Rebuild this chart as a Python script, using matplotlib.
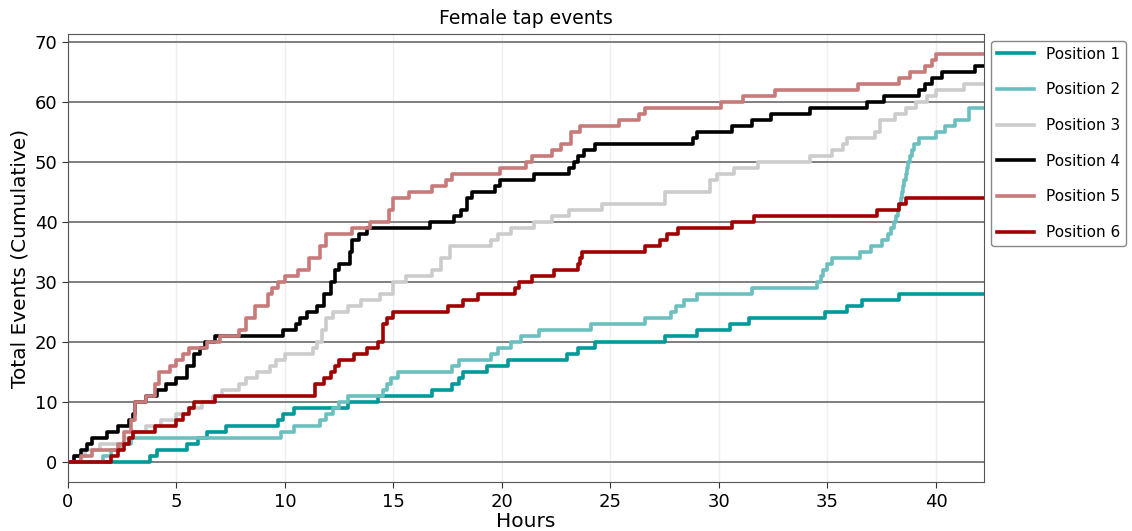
import matplotlib
matplotlib.use("Agg")
import matplotlib.pyplot as plt

# hours at which each cumulative count starts (step functions)
p1_t = [0, 3.8, 4.1, 5.5, 6.0, 6.4, 7.3, 9.7, 9.9, 10.4, 12.9, 14.3, 16.8, 17.7, 18.0, 18.2, 19.3,
        20.3, 23.0, 23.5, 24.3, 27.5, 29.0, 30.5, 31.4, 34.9, 35.9, 36.6, 38.3]
p1_c = [0, 1, 2, 3, 4, 5, 6, 7, 8, 9, 10, 11, 12, 13, 14, 15, 16,
        17, 18, 19, 20, 21, 22, 23, 24, 25, 26, 27, 28]

p2_t = [0, 1.6, 2.0, 2.4, 2.9, 9.8, 10.4, 11.6, 11.9, 12.2, 12.5, 12.9, 14.5, 14.7, 14.9, 15.2,
        17.7, 18.0, 19.5, 19.8, 20.4, 20.9, 21.7, 24.1, 26.6, 27.8, 28.0, 28.4, 29.0, 31.5,
        34.5, 34.7, 34.8, 35.0, 35.2, 36.5, 37.0, 37.5, 37.8, 37.95, 38.05, 38.15, 38.25,
        38.3, 38.4, 38.45, 38.5, 38.55, 38.6, 38.65, 38.7, 38.8, 38.9, 39.0, 39.2, 40.0,
        40.4, 40.9, 41.5]
p2_c = [0, 1, 2, 3, 4, 5, 6, 7, 8, 9, 10, 11, 12, 13, 14, 15,
        16, 17, 18, 19, 20, 21, 22, 23, 24, 25, 26, 27, 28, 29,
        30, 31, 32, 33, 34, 35, 36, 37, 38, 39, 40, 41, 42,
        43, 44, 45, 46, 47, 48, 49, 50, 51, 52, 53, 54, 55,
        56, 57, 59]

p3_t = [0, 0.3, 0.8, 1.5, 2.6, 3.0, 3.6, 4.3, 5.0, 5.6, 6.2, 6.7, 7.1, 7.9, 8.2, 8.7, 9.3, 9.6,
        10.0, 11.3, 11.5, 11.7, 11.9, 12.2, 12.9, 13.5, 14.4, 15.0, 15.6, 16.8, 17.2, 17.6,
        19.5, 19.8, 20.4, 21.5, 22.3, 23.1, 24.6, 27.5, 29.6, 29.9, 30.7, 31.8, 34.2, 35.2,
        35.7, 35.9, 37.2, 37.4, 38.1, 38.6, 39.1, 39.6, 40.0, 41.3]
p3_c = [0, 1, 2, 3, 4, 5, 6, 7, 8, 9, 10, 11, 12, 13, 14, 15, 16, 17,
        18, 19, 20, 22, 24, 25, 26, 27, 28, 30, 31, 32, 34, 36,
        37, 38, 39, 40, 41, 42, 43, 45, 47, 48, 49, 50, 51, 52,
        53, 54, 55, 57, 58, 59, 60, 61, 62, 63]

p4_t = [0, 0.3, 0.6, 0.9, 1.1, 1.8, 2.3, 2.8, 3.0, 3.1, 3.6, 4.1, 4.5, 5.0, 5.5, 5.8, 6.1, 6.3,
        6.8, 9.9, 10.5, 10.7, 11.0, 11.5, 11.8, 12.1, 12.3, 12.5, 13.0, 13.1, 13.4, 13.8,
        16.7, 17.8, 18.1, 18.4, 18.6, 19.7, 19.9, 21.5, 23.1, 23.3, 23.5, 23.8, 24.3, 28.8,
        29.0, 30.6, 31.5, 32.4, 34.2, 36.8, 37.6, 39.2, 39.5, 39.8, 40.3, 41.8]
p4_c = [0, 1, 2, 3, 4, 5, 6, 7, 8, 10, 11, 12, 13, 14, 16, 18, 19, 20,
        21, 22, 23, 24, 25, 26, 28, 30, 32, 33, 35, 37, 38, 39,
        40, 41, 42, 44, 45, 46, 47, 48, 49, 50, 51, 52, 53, 54,
        55, 56, 57, 58, 59, 60, 61, 62, 63, 64, 65, 66]

p5_t = [0, 0.6, 1.1, 2.3, 2.6, 2.9, 3.1, 3.6, 4.0, 4.2, 4.7, 5.0, 5.3, 5.6, 6.4, 7.0, 7.9, 8.2,
        8.6, 9.2, 9.4, 9.7, 10.0, 10.6, 11.1, 11.6, 11.9, 13.1, 13.9, 14.8, 15.0, 15.7, 16.8,
        17.4, 17.7, 19.9, 21.1, 21.4, 22.3, 22.7, 23.2, 23.6, 25.4, 26.3, 26.6, 30.1, 31.1,
        32.6, 36.4, 38.3, 38.8, 39.5, 39.8, 40.0]
p5_c = [0, 1, 2, 3, 5, 7, 10, 11, 13, 15, 16, 17, 18, 19, 20, 21, 22, 24,
        26, 28, 29, 30, 31, 32, 34, 36, 38, 39, 40, 42, 44, 45, 46,
        47, 48, 49, 50, 51, 52, 53, 55, 56, 57, 58, 59, 60, 61,
        62, 63, 64, 65, 66, 67, 68]

p6_t = [0, 2.0, 2.3, 2.6, 2.8, 3.0, 4.0, 5.0, 5.3, 5.6, 5.8, 6.8, 11.4, 11.8, 12.1, 12.3, 12.5,
        13.2, 13.8, 14.3, 14.5, 14.7, 15.0, 17.5, 18.2, 18.9, 20.6, 20.8, 21.4, 22.4, 23.5,
        23.6, 23.7, 26.6, 27.3, 27.6, 28.1, 30.6, 31.6, 37.3, 38.3, 38.6]
p6_c = [0, 1, 2, 3, 4, 5, 6, 7, 8, 9, 10, 11, 13, 14, 15, 16, 17,
        18, 19, 20, 23, 24, 25, 26, 27, 28, 29, 30, 31, 32, 33,
        34, 35, 36, 37, 38, 39, 40, 41, 42, 43, 44]

labels = ["Position 1", "Position 2", "Position 3", "Position 4", "Position 5", "Position 6"]
colors = ["#009999", "#6cbfbf", "#cccccc", "#000000", "#c87a7a", "#a00000"]
t_end = 42.2

fig = plt.figure(figsize=(11.32, 5.31), dpi=100)
ax = fig.add_axes([0.060, 0.092, 0.809, 0.844])

series = [(p1_t, p1_c), (p2_t, p2_c), (p3_t, p3_c), (p4_t, p4_c), (p5_t, p5_c), (p6_t, p6_c)]
for (t, c), lab, col in zip(series, labels, colors):
    ax.step(t + [t_end], c + [c[-1]], where="post", color=col, lw=2.6, label=lab)

ax.set_xlim(0, t_end)
ax.set_ylim(-3.4, 71.4)
ax.set_xticks(range(0, 45, 5))
ax.set_yticks(range(0, 80, 10))
ax.set_axisbelow(True)
ax.yaxis.grid(True, color="#7f7f7f", lw=1.4)
ax.xaxis.grid(True, color="#eeeeee", lw=1.0)
for s in ax.spines.values():
    s.set_color("#555555")
ax.tick_params(labelsize=13, colors="#333333", length=4)
for lbl in ax.get_xticklabels() + ax.get_yticklabels():
    lbl.set_color("black")

ax.set_title("Female tap events", fontsize=13.5, pad=7)
ax.set_xlabel("Hours", fontsize=14.5, labelpad=1)
ax.set_ylabel("Total Events (Cumulative)", fontsize=14.5)

ax.legend(loc="upper left", bbox_to_anchor=(1.008, 0.985), fontsize=11, labelspacing=1.35,
          handlelength=2.4, framealpha=1, edgecolor="#888888", fancybox=True, borderaxespad=0)

fig.savefig("out.png", dpi=100)
